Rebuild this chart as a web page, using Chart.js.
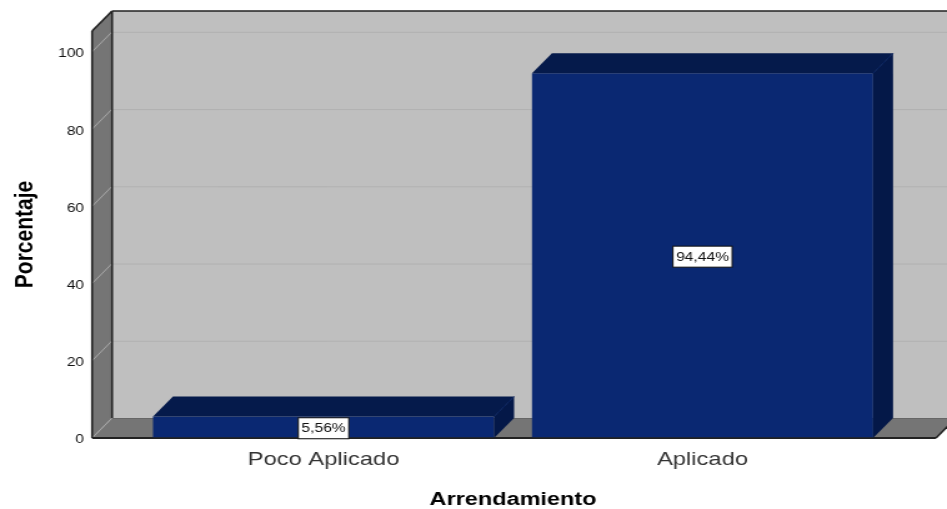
<!DOCTYPE html>
<html><head><meta charset="utf-8">
<style>html,body{margin:0;padding:0;background:#fff;overflow:hidden}#w{width:947px;height:509px;overflow:hidden}
#c{display:block;transform-origin:0 0;transform:scale(1.2493,1)}</style>
<script src="https://cdn.jsdelivr.net/npm/chart.js@4"></script></head>
<body><div id="w"><canvas id="c" width="758" height="509"></canvas></div>
<script>
const categories = ['Poco Aplicado', 'Aplicado'];
const percentages = [5.56, 94.44];
const pointLabels = ['5,56%', '94,44%'];
const yTicks = [0, 20, 40, 60, 80, 100];
const xTitle = 'Arrendamiento';
const yTitle = 'Porcentaje';

const DX = 16, DY = 20, WALL_L = 33.6, WALL_R = 35.2;
const COL = {back:'#bfbfbf', side:'#757575', floor:'#757575', line:'#222', grid:'#b1b1b1', sideGrid:'#a9a9a9',
  front:'#0a2872', top:'#051a4b', right:'#041848'};
function poly(ctx, pts, fill){ctx.beginPath();pts.forEach((p,i)=>i?ctx.lineTo(p[0],p[1]):ctx.moveTo(p[0],p[1]));ctx.closePath();ctx.fillStyle=fill;ctx.fill();}
function seg(ctx,x1,y1,x2,y2,c,w){ctx.beginPath();ctx.moveTo(x1,y1);ctx.lineTo(x2,y2);ctx.strokeStyle=c;ctx.lineWidth=w;ctx.stroke();}

const scene = {
  id:'scene',
  beforeDatasetsDraw(chart){
    const {ctx,chartArea:a,scales:{y}} = chart;
    const L=a.left-WALL_L, R=a.right+WALL_R, T=a.top, B=a.bottom;
    ctx.save();
    poly(ctx,[[L+DX,T-DY],[chart.width,T-DY],[chart.width,B-DY],[L+DX,B-DY]],COL.back);
    poly(ctx,[[L,T],[L+DX,T-DY],[L+DX,B-DY],[L,B]],COL.side);
    poly(ctx,[[L,B],[L+DX,B-DY],[R+DX,B-DY],[R,B]],COL.floor);
    yTicks.forEach(v=>{ if(v===0) return; const p=y.getPixelForValue(v);
      seg(ctx,L+DX,p-DY+.5,chart.width,p-DY+.5,COL.grid,1);
      seg(ctx,L,p,L+DX,p-DY,COL.sideGrid,1);
    });
    seg(ctx,L,B,L+DX,B-DY,COL.sideGrid,1);
    seg(ctx,L+DX,B-DY+.5,chart.width,B-DY+.5,'#666',1);
    seg(ctx,L+DX,T-DY,chart.width,T-DY,COL.line,1.6);
    seg(ctx,L+DX,T-DY,L+DX,B-DY,COL.line,1.6);
    seg(ctx,L,T,L+DX,T-DY,COL.line,1.6);
    seg(ctx,L,T,L,B,COL.line,1.6);
    seg(ctx,L,B,R,B,COL.line,2);
    seg(ctx,R,B,R+DX,B-DY,COL.line,1.6);
    ctx.restore();
  },
  afterDatasetsDraw(chart){
    const {ctx} = chart;
    ctx.save();
    chart.getDatasetMeta(0).data.forEach((b,i)=>{
      const l=b.x-b.width/2, r=b.x+b.width/2, t=b.y, bt=b.base;
      poly(ctx,[[l,t],[l+DX,t-DY],[r+DX,t-DY],[r,t]],COL.top);
      poly(ctx,[[r,t],[r+DX,t-DY],[r+DX,bt-DY],[r,bt]],COL.right);
      seg(ctx,r,t,r+DX,t-DY,'#07215e',1);
      seg(ctx,l,bt,r,bt,COL.line,1.5);
      ctx.font='12.5px "Liberation Sans"';
      const tw=ctx.measureText(pointLabels[i]).width, bw=tw+5, bh=21;
      const cy=(t+bt)/2+1, cx=b.x;
      ctx.fillStyle='#fff';ctx.fillRect(cx-bw/2,cy-bh/2,bw,bh);
      ctx.strokeStyle='#111';ctx.lineWidth=1;ctx.strokeRect(cx-bw/2,cy-bh/2,bw,bh);
      ctx.fillStyle='#111';ctx.textAlign='center';ctx.textBaseline='middle';
      ctx.fillText(pointLabels[i],cx,cy+.5);
    });
    ctx.restore();
  }
};

function lowerTickLabels(scale, px){
  if(scale.__lowered) return;
  scale.__lowered = true;
  const orig = scale._computeLabelItems;
  scale._computeLabelItems = function(area){
    const items = orig.call(this, area);
    items.forEach(it => { it.options.translation = [it.options.translation[0], it.options.translation[1] + px]; });
    return items;
  };
}

new Chart(document.getElementById('c'),{
  type:'bar',
  data:{labels:categories,datasets:[{data:percentages,backgroundColor:COL.front,borderWidth:0,barPercentage:0.9,categoryPercentage:1}]},
  plugins:[scene],
  options:{
    responsive:false,animation:false,
    layout:{padding:{left:7,right:44,top:31,bottom:0}},
    plugins:{legend:{display:false},tooltip:{enabled:false}},
    scales:{
      x:{grid:{display:false},border:{display:false},
        afterFit(s){s.height=71;s.paddingLeft=0;s.paddingRight=0;},
        ticks:{color:'#333',font:{family:'Liberation Sans',size:19},padding:2,maxRotation:0},
        title:{display:true,text:xTitle,color:'#000',font:{family:'Liberation Sans',size:18.8,weight:'bold',lineHeight:1},padding:{top:-2,bottom:0}}},
      y:{min:0,max:105.4,grid:{display:false},border:{display:false},
        afterFit(s){s.width=100.3;s.paddingTop=0;s.paddingBottom=0;lowerTickLabels(s,2);},
        afterBuildTicks(s){s.ticks=yTicks.map(v=>({value:v}));},
        ticks:{color:'#111',font:{family:'Liberation Sans',size:12.5},padding:32},
        title:{display:true,text:yTitle,color:'#000',font:{family:'Liberation Sans',size:21,weight:'bold'},padding:{top:1,bottom:0}}}
    }
  }
});
</script></body></html>
